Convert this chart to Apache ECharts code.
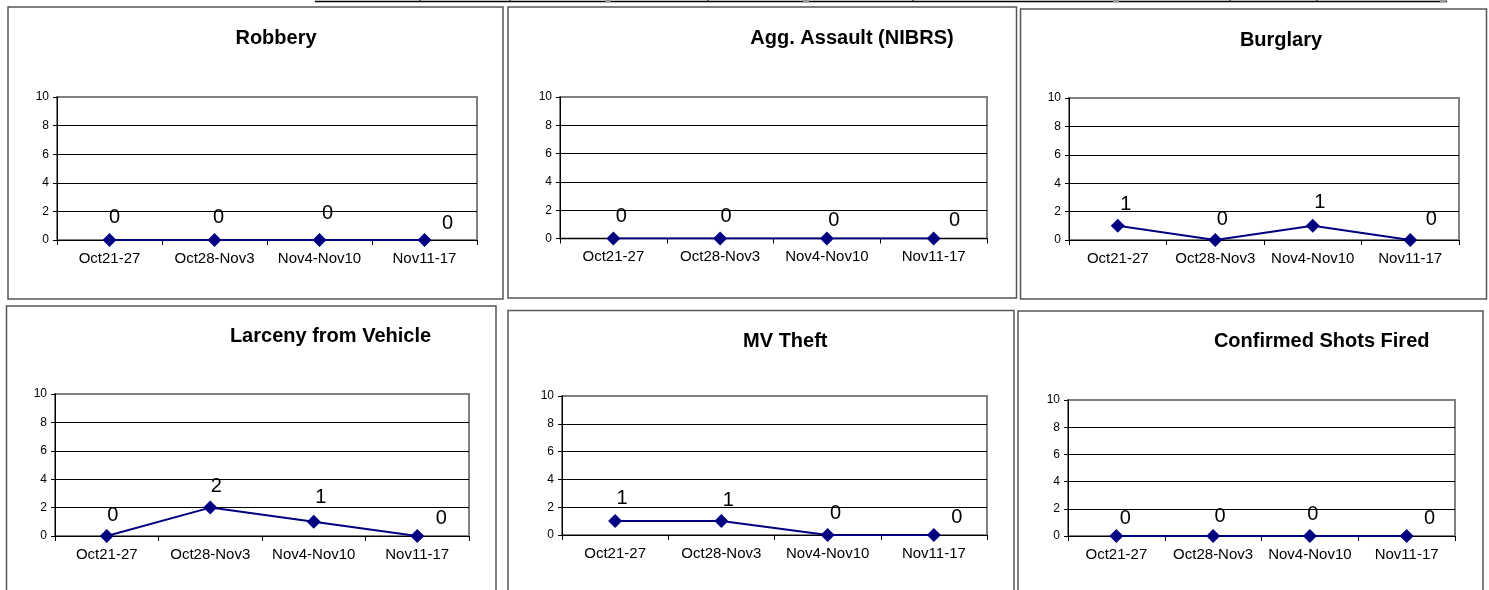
<!DOCTYPE html>
<html>
<head>
<meta charset="utf-8">
<title>Weekly Crime Counts</title>
<script src="https://cdn.jsdelivr.net/npm/echarts@6/dist/echarts.min.js"></script>
<style>
  html, body { margin: 0; padding: 0; background: #ffffff; }
  #chart { width: 1489px; height: 590px; }
</style>
</head>
<body>
<div id="chart"></div>
<script>
// Week ranges shown on every x axis
const categories = ['Oct21-27', 'Oct28-Nov3', 'Nov4-Nov10', 'Nov11-17'];

// Weekly counts per offense
const robbery = [0, 0, 0, 0];
const aggAssault = [0, 0, 0, 0];
const burglary = [1, 0, 1, 0];
const larcenyFromVehicle = [0, 2, 1, 0];
const mvTheft = [1, 1, 0, 0];
const shotsFired = [0, 0, 0, 0];

// Shared value-axis scale
const yMin = 0;
const yMax = 10;
const yStep = 2;

const panelTitles = ['Robbery', 'Agg. Assault (NIBRS)', 'Burglary',
  'Larceny from Vehicle', 'MV Theft', 'Confirmed Shots Fired'];
const panelValues = [robbery, aggAssault, burglary, larcenyFromVehicle, mvTheft, shotsFired];

// Layout of each panel: frame box, plot box, title anchor, label nudges
const layout = [
  { frame: [8, 7, 495, 292], plot: [57, 97, 420, 143], title: [276, 28],
    nudge: [[5, -23], [4, -23], [8, -27], [23, -17]] },
  { frame: [508, 7, 508.5, 291], plot: [560, 97, 427, 141.5], title: [852, 28],
    nudge: [[8, -22], [6, -22], [7, -18], [21, -18]] },
  { frame: [1020.5, 9, 466, 290], plot: [1069, 98, 390, 142], title: [1281, 30.5],
    nudge: [[8, -21], [7, -21], [7, -23], [21, -21]] },
  { frame: [6.5, 306, 489.5, 300], plot: [55, 394, 414, 142], title: [330.5, 326.5],
    nudge: [[6, -21], [6, -21], [7, -24], [24, -18]] },
  { frame: [508, 310.5, 506, 300], plot: [562, 396, 425, 139], title: [785.3, 331.5],
    nudge: [[7, -23], [7, -21], [8, -22], [23, -18]] },
  { frame: [1018, 311, 465, 300], plot: [1068, 400, 387, 136], title: [1321.7, 331.5],
    nudge: [[9, -18], [7, -20], [3, -22], [23, -18]] }
];

const FONT = 'Liberation Sans, Arial, Helvetica, sans-serif';
const NAVY = '#000080';

const chart = echarts.init(document.getElementById('chart'), null, { renderer: 'canvas' });

const titles = [], grids = [], xAxes = [], yAxes = [], series = [];
const graphics = [];

layout.forEach((p, i) => {
  titles.push({
    text: panelTitles[i],
    left: p.title[0],
    top: p.title[1],
    padding: 0,
    textAlign: 'center',
    textStyle: { fontFamily: FONT, fontSize: 20, fontWeight: 'bold', color: '#000' }
  });
  grids.push({
    left: p.plot[0], top: p.plot[1], width: p.plot[2], height: p.plot[3],
    show: true, backgroundColor: '#ffffff', borderColor: '#808080', borderWidth: 2,
    containLabel: false
  });
  xAxes.push({
    type: 'category', gridIndex: i, data: categories, boundaryGap: true,
    axisLine: { show: true, lineStyle: { color: '#000', width: 1 } },
    axisTick: { show: true, length: 5, lineStyle: { color: '#000' } },
    axisLabel: { interval: 0, margin: 11, color: '#000', fontFamily: FONT, fontSize: 15 },
    splitLine: { show: false }
  });
  yAxes.push({
    type: 'value', gridIndex: i, min: yMin, max: yMax, interval: yStep,
    axisLine: { show: true, lineStyle: { color: '#000', width: 1 } },
    axisTick: { show: true, length: 4, lineStyle: { color: '#000' } },
    axisLabel: { margin: 8, color: '#000', fontFamily: FONT, fontSize: 12 },
    splitLine: { show: true, showMaxLine: false, lineStyle: { color: '#000', width: 1 } }
  });
  series.push({
    type: 'line', xAxisIndex: i, yAxisIndex: i,
    data: panelValues[i].map((v, k) => ({ value: v, label: { offset: p.nudge[k] } })),
    symbol: 'diamond', symbolSize: 14,
    itemStyle: { color: NAVY },
    lineStyle: { color: NAVY, width: 2 },
    label: {
      show: true, position: 'inside', align: 'center', verticalAlign: 'middle',
      color: '#000', fontFamily: FONT, fontSize: 20
    },
    z: 5
  });
  graphics.push({
    type: 'rect', silent: true, z: 10,
    shape: { x: p.frame[0], y: p.frame[1], width: p.frame[2], height: p.frame[3] },
    style: { fill: 'none', stroke: '#555555', lineWidth: 1.5 }
  });
});

// Bottom edge of the table above the panels
graphics.push({
  type: 'line', silent: true, z: 10,
  shape: { x1: 315, y1: 1.5, x2: 1447, y2: 1.5 },
  style: { stroke: '#000', lineWidth: 1.5 }
});
[420, 510, 708, 913, 1230, 1317].forEach(x => {
  graphics.push({
    type: 'line', silent: true, z: 10,
    shape: { x1: x, y1: 0, x2: x, y2: 2 },
    style: { stroke: '#000', lineWidth: 1 }
  });
});
[608, 806, 1116, 1443].forEach(x => {
  graphics.push({
    type: 'rect', silent: true, z: 10,
    shape: { x: x - 3, y: 0, width: 6, height: 2.5 },
    style: { fill: '#9a9a9a' }
  });
});

chart.setOption({
  animation: false,
  backgroundColor: '#ffffff',
  title: titles,
  grid: grids,
  xAxis: xAxes,
  yAxis: yAxes,
  series: series,
  graphic: graphics
});
</script>
</body>
</html>
